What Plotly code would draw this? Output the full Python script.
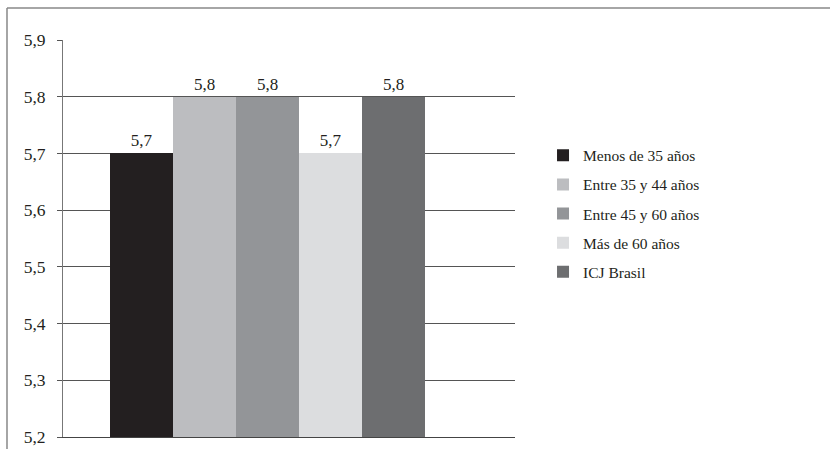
import plotly.graph_objects as go

series_names = ["Menos de 35 años", "Entre 35 y 44 años", "Entre 45 y 60 años", "Más de 60 años", "ICJ Brasil"]
values = [5.7, 5.8, 5.8, 5.7, 5.8]
colors = ["#231f20", "#bcbdc0", "#939598", "#dcdddf", "#6d6e70"]
category = [""]

FONT = "Liberation Serif, Times New Roman, serif"

fig = go.Figure()
for name, v, c in zip(series_names, values, colors):
    fig.add_trace(go.Bar(
        x=category, y=[v], name=name, legendgroup=name,
        marker=dict(color=c, line=dict(width=0)),
        texttemplate="%{y:.1f}", textposition="outside",
        textfont=dict(family=FONT, size=17, color="#231f20"),
        cliponaxis=False,
    ))

fig.update_layout(
    width=830, height=449,
    margin=dict(l=63, r=315, t=40, b=12, autoexpand=False),
    paper_bgcolor="white", plot_bgcolor="white",
    barmode="group", bargap=0, bargroupgap=0,
    separators=",.",
    font=dict(family=FONT, size=15, color="#231f20"),
    showlegend=True,
    legend=dict(
        x=1.062, xanchor="left", y=0.5625, yanchor="middle",
        font=dict(family=FONT, size=15.5, color="#231f20"),
        tracegroupgap=6, itemwidth=30,
        bgcolor="rgba(0,0,0,0)",
    ),
    xaxis=dict(
        range=[-0.649, 0.786], showticklabels=False, showgrid=False, automargin=False,
        showline=True, linecolor="#444", linewidth=1, ticks="", zeroline=False,
    ),
    yaxis=dict(
        range=[5.2, 5.9], dtick=0.1, tick0=5.2, tickformat=".1f", automargin=False,
        showgrid=True, gridcolor="#555", gridwidth=1,
        ticks="outside", ticklen=5, tickcolor="#555", tickwidth=1,
        showline=True, linecolor="#777", linewidth=1,
        ticklabelstandoff=8, zeroline=False,
        tickfont=dict(family=FONT, size=17.5, color="#231f20"),
    ),
    shapes=[
        dict(type="line", xref="paper", yref="paper", x0=-0.1239, x1=1.7, y0=1.0806, y1=1.0806,
             line=dict(color="#888", width=1.5)),
        dict(type="line", xref="paper", yref="paper", x0=-0.1239, x1=-0.1239, y0=1.0806, y1=-0.05,
             line=dict(color="#888", width=1.5)),
    ],
)

fig.write_html(
    "out.html",
    config={"displayModeBar": False},
    post_script="document.body.style.margin='0';document.body.style.padding='0';document.body.style.overflow='hidden';",
)
